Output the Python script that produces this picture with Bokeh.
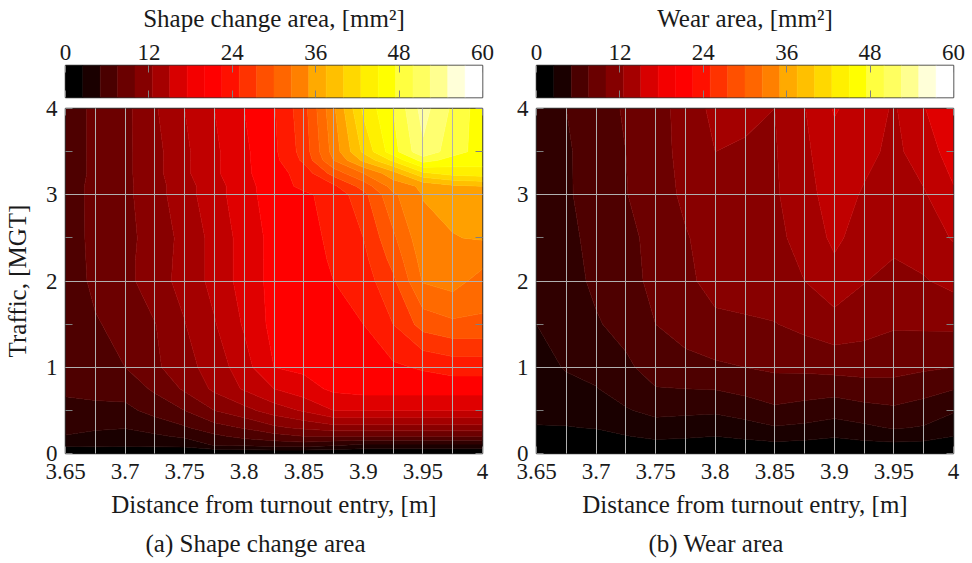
from bokeh.plotting import figure
from bokeh.layouts import row, column
from bokeh.models import FixedTicker, LinearAxis, Range1d, Title
from bokeh.embed import file_html
from bokeh.resources import INLINE

FONT = "Liberation Serif"
distance = [3.65, 3.675, 3.7, 3.725, 3.75, 3.775, 3.8, 3.825, 3.85, 3.875, 3.9, 3.925, 3.95, 3.975, 4.0]
x_major = [3.65, 3.7, 3.75, 3.8, 3.85, 3.9, 3.95, 4.0]
x_labels = ["3.65", "3.7", "3.75", "3.8", "3.85", "3.9", "3.95", "4"]
y_major = [0, 1, 2, 3, 4]
y_minor = [0.5, 1.5, 2.5, 3.5]
cbar_ticks = [0, 12, 24, 36, 48, 60]
levels = [i * 2.5 for i in range(25)]

bar_palette = ["#000000", "#1a0000", "#4a0000", "#6a0000", "#850000", "#a50000", "#d80000", "#f40000",
               "#ff0000", "#ff1000", "#ff3300", "#ff5000", "#ff6600", "#ff8000", "#ffaa00", "#ffc000",
               "#ffd800", "#fff000", "#ffff00", "#ffff40", "#ffff60", "#ffff90", "#ffffd8", "#ffffff"]
map_palette = ["#000000", "#1a0000", "#300000", "#4e0000", "#6c0000", "#880000", "#a40000", "#c00000",
               "#e00000", "#ff0000", "#ff1a00", "#ff3300", "#ff5500", "#ff6a00", "#ff8000", "#ffa000",
               "#ffc000", "#ffd800", "#fff000", "#ffff00", "#ffff40", "#ffff70", "#ffffa0", "#ffffff"]

shape_traffic = [0, 0.1, 0.2, 0.3, 0.5, 0.75, 1, 1.5, 2, 2.25, 2.5, 3, 3.1, 3.25, 3.4, 3.5, 4]
shape_area = [
    [0, 0, 0, 0, 0, 0, 0, 0, 0, 0, 0, 0, 0, 0, 0],
    [3.0, 3.2, 3.0, 3.2, 3.3, 5.2, 5.6, 6.2, 6.3, 5.5, 4.5, 4.5, 4.5, 4.5, 4.5],
    [4.9, 4.4, 4.2, 4.6, 5.4, 7.0, 8.2, 9.0, 10.0, 10.0, 10.0, 10.0, 10.0, 10.0, 10.0],
    [5.6, 5.3, 5.1, 6.0, 7.2, 9.0, 10.2, 12.0, 13.0, 14.0, 14.0, 14.0, 14.0, 14.0, 14.0],
    [6.8, 6.9, 6.8, 8.4, 10.0, 12.5, 14.2, 16.2, 17.8, 20.0, 20.0, 20.0, 20.0, 20.0, 20.0],
    [7.9, 8.2, 8.6, 10.4, 12.9, 15.5, 17.8, 20.0, 21.5, 23.0, 23.5, 23.5, 23.5, 23.5, 23.5],
    [8.5, 9.2, 10.0, 12.0, 14.2, 16.0, 19.0, 22.5, 23.0, 24.0, 24.3, 24.6, 25.3, 26.0, 26.0],
    [8.7, 9.8, 10.7, 12.4, 14.9, 17.3, 20.3, 23.3, 24.0, 24.5, 25.0, 27.5, 31.0, 32.0, 32.0],
    [8.7, 10.5, 11.7, 14.0, 15.8, 18.3, 21.0, 23.3, 24.0, 25.0, 26.2, 29.5, 35.2, 36.0, 34.0],
    [8.7, 10.6, 11.8, 13.8, 15.8, 18.3, 21.0, 23.3, 24.3, 25.2, 26.8, 30.8, 36.0, 36.8, 35.8],
    [8.7, 10.7, 11.8, 13.5, 15.8, 18.3, 21.0, 23.3, 24.5, 25.3, 27.5, 32.0, 36.8, 37.4, 37.7],
    [8.6, 10.8, 11.9, 14.0, 16.5, 19.0, 21.5, 23.8, 24.6, 25.8, 29.2, 34.5, 37.6, 38.2, 38.4],
    [8.6, 10.8, 11.9, 14.0, 16.5, 19.0, 21.5, 24.0, 25.5, 27.0, 31.0, 36.0, 38.0, 39.5, 40.0],
    [8.5, 10.6, 11.9, 14.2, 17.0, 19.5, 22.0, 24.0, 26.0, 31.0, 35.0, 39.0, 44.5, 46.0, 46.5],
    [8.5, 10.6, 11.9, 14.2, 17.0, 19.5, 22.0, 24.3, 28.0, 35.0, 40.5, 45.5, 51.0, 49.0, 48.5],
    [8.5, 10.6, 11.9, 14.2, 17.0, 19.5, 22.0, 24.5, 28.5, 36.0, 43.0, 49.0, 54.5, 51.0, 49.0],
    [8.5, 10.6, 11.8, 14.7, 17.5, 20.0, 22.5, 24.8, 29.0, 37.0, 45.5, 50.0, 56.0, 52.0, 48.5],
]

wear_traffic = [0, 0.1, 0.2, 0.3, 0.5, 0.75, 1, 1.5, 2, 2.5, 3, 3.5, 4]
wear_area = [
    [0, 0, 0, 0, 0, 0, 0, 0, 0, 0, 0, 0, 0, 0, 0],
    [0.8, 0.8, 0.9, 1.2, 1.7, 1.5, 1.2, 1.5, 1.9, 1.7, 1.4, 1.8, 1.9, 1.8, 1.2],
    [1.6, 1.6, 1.8, 2.4, 3.0, 2.8, 2.5, 3.0, 3.5, 3.2, 2.7, 3.2, 3.7, 3.4, 2.5],
    [2.4, 2.4, 2.6, 3.2, 4.1, 3.8, 3.5, 4.0, 4.8, 4.5, 3.9, 4.5, 5.2, 4.8, 3.4],
    [3.0, 3.3, 3.6, 4.8, 5.6, 5.5, 5.4, 6.1, 7.0, 6.5, 6.0, 6.6, 7.0, 6.4, 5.3],
    [3.5, 4.3, 4.9, 6.0, 7.4, 7.5, 7.6, 8.2, 8.9, 8.7, 8.4, 9.0, 9.2, 8.4, 7.6],
    [4.0, 5.2, 5.7, 7.1, 8.4, 9.0, 9.6, 10.0, 10.4, 10.5, 10.9, 10.9, 10.7, 10.4, 10.0],
    [5.0, 6.0, 7.3, 8.2, 10.0, 11.3, 12.0, 12.2, 12.4, 13.2, 14.0, 13.5, 12.8, 12.9, 13.0],
    [5.7, 6.7, 7.9, 8.9, 10.8, 12.0, 13.3, 13.5, 14.0, 15.0, 16.6, 15.1, 14.2, 14.8, 15.7],
    [6.0, 6.9, 8.2, 9.4, 10.7, 12.3, 13.6, 14.0, 14.3, 16.0, 18.0, 16.4, 15.7, 16.2, 17.7],
    [6.0, 7.2, 8.5, 9.9, 11.3, 13.0, 14.9, 14.6, 14.7, 16.5, 18.8, 17.2, 16.4, 17.2, 19.7],
    [6.0, 7.2, 8.6, 10.0, 11.5, 13.3, 15.0, 14.5, 14.8, 17.0, 19.2, 18.3, 16.8, 18.9, 21.0],
    [6.0, 7.5, 8.8, 10.3, 11.5, 13.5, 15.7, 16.0, 15.0, 17.4, 20.2, 19.0, 17.2, 19.9, 21.5],
]


def style_axis(ax, tick_size="23px", label_size="25px"):
    ax.axis_line_color = None
    ax.major_tick_in = 7
    ax.major_tick_out = 0
    ax.minor_tick_in = 0
    ax.minor_tick_out = 0
    ax.major_tick_line_color = "#808080"
    ax.major_label_text_font = FONT
    ax.major_label_text_font_size = tick_size
    ax.major_label_text_color = "#1a1a1a"
    ax.axis_label_text_font = FONT
    ax.axis_label_text_font_size = label_size
    ax.axis_label_text_font_style = "normal"
    ax.axis_label_text_color = "#1a1a1a"


def blank_axis(ticks):
    ax = LinearAxis(ticker=FixedTicker(ticks=ticks))
    style_axis(ax)
    ax.major_label_overrides = {t: "" for t in ticks}
    ax.major_label_standoff = 0
    return ax


def colorbar(title, left, right):
    p = figure(width=left + 417 + right, height=99, output_backend="svg", toolbar_location=None,
               x_range=Range1d(0, 60), y_range=Range1d(0, 1), x_axis_location="above",
               min_border_left=left, min_border_right=right, min_border_top=65, min_border_bottom=2,
               background_fill_color="white")
    p.quad(left=levels[:-1], right=levels[1:], bottom=0, top=1, fill_color=bar_palette,
           line_color=bar_palette, line_width=0.5)
    p.grid.visible = False
    p.yaxis.visible = False
    ax = p.xaxis[0]
    ax.ticker = FixedTicker(ticks=cbar_ticks)
    ax.axis_label = title
    ax.axis_label_standoff = 10
    ax.major_label_standoff = 6
    style_axis(ax)
    p.add_layout(blank_axis(cbar_ticks), "below")
    p.outline_line_color = "#333333"
    p.outline_line_width = 1.5
    return p


def panel(traffic, area, caption, caption_offset, left, right, ylabel=None):
    p = figure(width=left + 417 + right, height=470, output_backend="svg", toolbar_location=None,
               x_range=Range1d(3.65, 4), y_range=Range1d(0, 4),
               min_border_left=left, min_border_right=right, min_border_top=15, min_border_bottom=110,
               border_fill_alpha=0, margin=(-6, 0, 0, 0))
    p.contour(distance, traffic, area, levels, fill_color=map_palette,
              line_color=map_palette + ["#ffffff"], line_width=0.8)
    xa, ya = p.xaxis[0], p.yaxis[0]
    xa.ticker = FixedTicker(ticks=x_major)
    xa.major_label_overrides = dict(zip(x_major, x_labels))
    xa.axis_label = "Distance from turnout entry, [m]"
    xa.axis_label_standoff = 9
    xa.major_label_standoff = 10
    ya.ticker = FixedTicker(ticks=y_major + y_minor)
    ya.major_label_overrides = {v: "" for v in y_minor} | {v: str(v) for v in y_major}
    ya.major_label_standoff = 8
    if ylabel:
        ya.axis_label = ylabel
        ya.axis_label_standoff = 12
    style_axis(xa)
    style_axis(ya)
    p.add_layout(blank_axis(distance), "above")
    p.add_layout(blank_axis(y_major + y_minor), "right")
    p.xgrid.ticker = FixedTicker(ticks=distance)
    p.ygrid.ticker = FixedTicker(ticks=y_major)
    for g in (p.xgrid[0], p.ygrid[0]):
        g.grid_line_color = "#b0b0b0"
        g.grid_line_width = 1
        g.level = "overlay"
    p.outline_line_color = "#333333"
    p.outline_line_width = 1.5
    p.add_layout(Title(text=caption, align="left", offset=caption_offset, text_font=FONT,
                       text_font_size="25px", text_font_style="normal", text_color="#1a1a1a",
                       standoff=14), "below")
    return p


left_col = column(colorbar("Shape change area, [mm²]", 65, 23),
                  panel(shape_traffic, shape_area, "(a) Shape change area", 80, 65, 23, "Traffic, [MGT]"),
                  spacing=0)
right_col = column(colorbar("Wear area, [mm²]", 31, 19),
                   panel(wear_traffic, wear_area, "(b) Wear area", 112, 31, 19),
                   spacing=0)
page = row(left_col, right_col, spacing=0)
open("out.html", "w").write(file_html(page, INLINE))
